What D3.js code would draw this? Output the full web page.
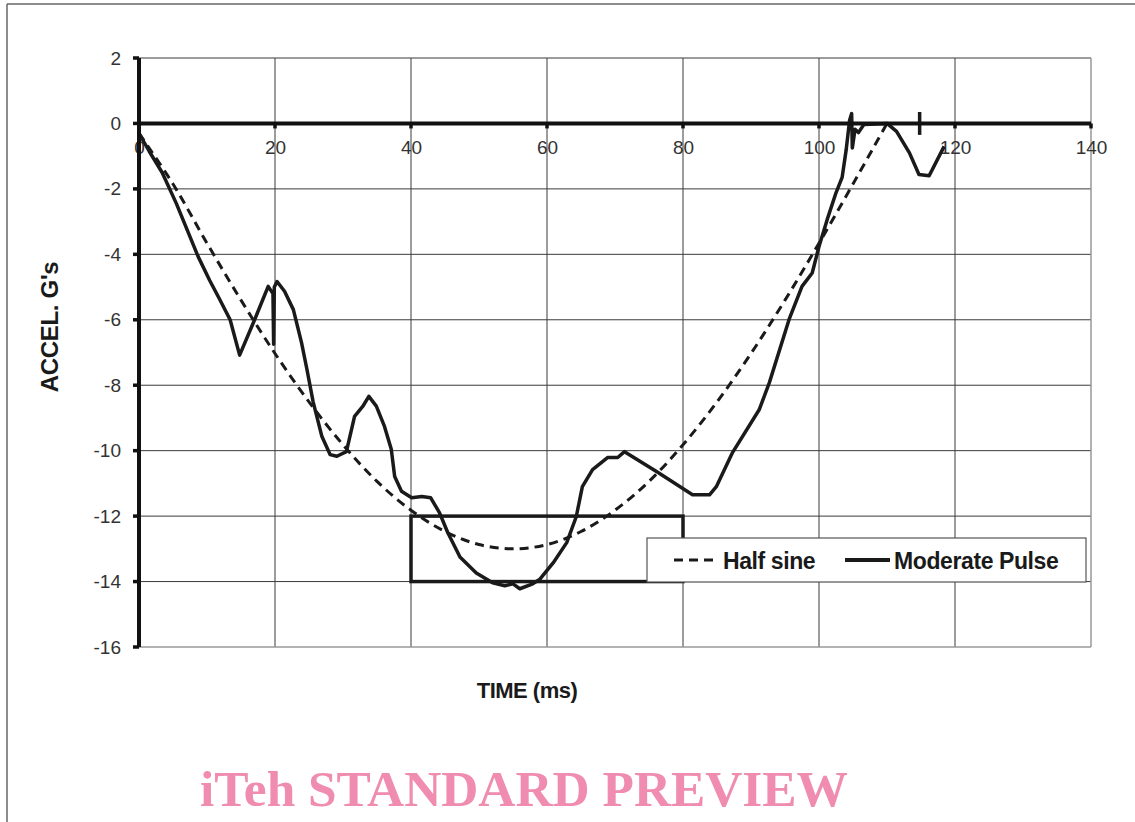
<!DOCTYPE html>
<html>
<head>
<meta charset="utf-8">
<script src="https://cdn.jsdelivr.net/npm/d3@7"></script>
<style>
  html, body { margin: 0; padding: 0; background: #fff; }
  svg { display: block; }
</style>
</head>
<body>
<svg id="chart" width="1135" height="822"></svg>
<script>
// ---- data ----
const xTicks = [0, 20, 40, 60, 80, 100, 120, 140];
const yTicks = [2, 0, -2, -4, -6, -8, -10, -12, -14, -16];

const halfSineTime = [0, 5, 10, 15, 20, 25, 30, 35, 40, 45, 50, 55, 60, 65, 70, 75, 80, 85, 90, 95, 100, 105, 110];
const halfSineAccel = [-0.3, -1.85, -3.66, -5.40, -7.03, -8.51, -9.82, -10.94, -11.82, -12.47, -12.87, -13.0,
  -12.87, -12.47, -11.82, -10.94, -9.82, -8.51, -7.03, -5.40, -3.66, -1.85, 0];

const pulseTime = [0, 1.5, 3.4, 5.5, 8.7, 10.4, 11.8, 13.4, 14.8, 17.0, 19.0, 19.7, 19.8, 19.9, 20.3, 21.4, 22.7,
  23.9, 24.7, 25.6, 26.9, 28.1, 29.1, 30.5, 31.7, 32.9, 33.8, 34.9, 36.1, 37.1, 37.6, 38.6, 40.1, 41.6, 42.9,
  44.2, 45.4, 47.2, 49.6, 52.0, 53.8, 55.0, 56.0, 57.9, 58.9, 60.9, 62.9, 64.3, 65.2, 66.7, 68.9, 70.4, 71.4,
  76.1, 81.4, 83.9, 84.9, 87.3, 91.2, 92.7, 95.6, 97.5, 99.0, 100.0, 101.2, 102.5, 103.4, 104.0, 104.5, 104.8,
  104.9, 105.3, 105.8, 106.6, 110.0, 111.4, 113.3, 114.7, 116.2, 118.4];
const pulseAccel = [-0.3, -0.85, -1.5, -2.45, -4.07, -4.8, -5.35, -6.0, -7.08, -6.0, -4.98, -5.2, -6.75, -5.0,
  -4.83, -5.13, -5.69, -6.7, -7.52, -8.5, -9.57, -10.12, -10.17, -10.03, -8.95, -8.65, -8.34, -8.64, -9.26, -9.96,
  -10.79, -11.24, -11.44, -11.4, -11.44, -11.9, -12.5, -13.25, -13.74, -14.04, -14.13, -14.07, -14.22, -14.07,
  -13.94, -13.43, -12.81, -12.02, -11.1, -10.58, -10.21, -10.21, -10.03, -10.64, -11.35, -11.35, -11.1, -10.05,
  -8.75, -7.92, -5.99, -4.98, -4.57, -3.76, -2.94, -2.12, -1.65, -0.8, 0.1, 0.3, -0.75, -0.18, -0.28, -0.03, 0,
  -0.24, -0.9, -1.56, -1.6, -0.7];
// isolated vertical pulse mark
const pulseMarkTime = [114.8];
const pulseMarkRange = [0.35, -0.35];

// tolerance box (time range, accel range)
const boxTime = [40, 80];
const boxAccel = [-12, -14];

const seriesNames = ["Half sine", "Moderate Pulse"];
const xTitle = "TIME (ms)";
const yTitle = "ACCEL. G's";
const watermark = "iTeh STANDARD PREVIEW";

// ---- drawing ----
const SANS = "'Liberation Sans', Arial, sans-serif";
const svg = d3.select("#chart");
const x = d3.scaleLinear().domain([0, 140]).range([139, 1091]);
const y = d3.scaleLinear().domain([-16, 2]).range([647, 58]);

// outer frame
svg.append("line").attr("x1", 7).attr("x2", 1135).attr("y1", 4).attr("y2", 4)
  .attr("stroke", "#666").attr("stroke-width", 1.5);
svg.append("line").attr("x1", 7).attr("x2", 7).attr("y1", 4).attr("y2", 822)
  .attr("stroke", "#666").attr("stroke-width", 1.5);

// grid
const grid = svg.append("g");
grid.selectAll("line.v").data(xTicks.filter(d => d > 0 && d < 140)).enter().append("line")
  .attr("x1", d => x(d)).attr("x2", d => x(d)).attr("y1", y(2)).attr("y2", y(-16))
  .attr("stroke", "#3a3a3a").attr("stroke-width", 1);
grid.selectAll("line.h").data(yTicks.filter(d => d !== 0 && d !== -16)).enter().append("line")
  .attr("x1", x(0)).attr("x2", x(140)).attr("y1", d => y(d)).attr("y2", d => y(d))
  .attr("stroke", "#3a3a3a").attr("stroke-width", 1);
grid.append("line").attr("x1", x(140)).attr("x2", x(140)).attr("y1", y(2)).attr("y2", y(-16))
  .attr("stroke", "#999").attr("stroke-width", 1.5);
grid.append("line").attr("x1", x(0)).attr("x2", x(140)).attr("y1", y(-16)).attr("y2", y(-16))
  .attr("stroke", "#999").attr("stroke-width", 1.5);

// axes labels
const fmt = d => String(d);
const yAxis = d3.axisLeft(y).tickValues(yTicks).tickSize(0).tickPadding(18).tickFormat(fmt);
const gy = svg.append("g").attr("transform", `translate(${x(0)},0)`).call(yAxis);
gy.select(".domain").remove();
gy.selectAll("text").style("font-size", "19px").style("font-family", SANS).attr("fill", "#333");

const xAxis = d3.axisBottom(x).tickValues(xTicks).tickSize(0).tickPadding(17).tickFormat(fmt);
const gx = svg.append("g").attr("transform", `translate(0,${y(0)})`).call(xAxis);
gx.select(".domain").remove();
gx.selectAll("text").style("font-size", "19px").style("font-family", SANS).attr("fill", "#333");

// tolerance box
svg.append("rect")
  .attr("x", x(boxTime[0])).attr("y", y(boxAccel[0]))
  .attr("width", x(boxTime[1]) - x(boxTime[0])).attr("height", y(boxAccel[1]) - y(boxAccel[0]))
  .attr("fill", "none").attr("stroke", "#1a1a1a").attr("stroke-width", 3.5);

// half sine
const halfSine = halfSineTime.map((t, i) => [t, halfSineAccel[i]]);
svg.append("path").datum(halfSine)
  .attr("d", d3.line().x(d => x(d[0])).y(d => y(d[1])).curve(d3.curveCatmullRom))
  .attr("fill", "none").attr("stroke", "#1a1a1a").attr("stroke-width", 3)
  .attr("stroke-dasharray", "9,6");

// moderate pulse
const pulse = pulseTime.map((t, i) => [t, pulseAccel[i]]);
svg.append("path").datum(pulse)
  .attr("d", d3.line().x(d => x(d[0])).y(d => y(d[1])).curve(d3.curveLinear))
  .attr("fill", "none").attr("stroke", "#1a1a1a").attr("stroke-width", 3.5)
  .attr("stroke-linejoin", "round");
svg.selectAll("line.mark").data(pulseMarkTime).enter().append("line")
  .attr("x1", d => x(d)).attr("x2", d => x(d))
  .attr("y1", y(pulseMarkRange[0])).attr("y2", y(pulseMarkRange[1]))
  .attr("stroke", "#1a1a1a").attr("stroke-width", 3.5);

// thick axis lines
svg.append("line").attr("x1", x(0)).attr("x2", x(0)).attr("y1", y(2)).attr("y2", y(-16))
  .attr("stroke", "#111").attr("stroke-width", 4);
svg.append("line").attr("x1", x(0)).attr("x2", x(140)).attr("y1", y(0)).attr("y2", y(0))
  .attr("stroke", "#111").attr("stroke-width", 4);
svg.selectAll("line.yt").data(yTicks).enter().append("line")
  .attr("x1", x(0) - 6).attr("x2", x(0)).attr("y1", d => y(d)).attr("y2", d => y(d))
  .attr("stroke", "#111").attr("stroke-width", 3.5);
svg.selectAll("line.xt").data(xTicks).enter().append("line")
  .attr("x1", d => x(d)).attr("x2", d => x(d)).attr("y1", y(0)).attr("y2", y(0) + 5)
  .attr("stroke", "#111").attr("stroke-width", 3.5);

// axis titles
svg.append("text").attr("x", 527).attr("y", 698).attr("text-anchor", "middle")
  .style("font-family", SANS).style("font-size", "22px").attr("font-weight", "bold").attr("fill", "#1a1a1a")
  .attr("letter-spacing", -0.5).text(xTitle);
svg.append("text").attr("transform", "translate(58,327) rotate(-90)").attr("text-anchor", "middle")
  .style("font-family", SANS).style("font-size", "24px").attr("font-weight", "bold").attr("fill", "#1a1a1a")
  .attr("letter-spacing", -0.3).text(yTitle);

// legend
const lg = svg.append("g");
lg.append("rect").attr("x", 647).attr("y", 538).attr("width", 439).attr("height", 44)
  .attr("fill", "#fff").attr("stroke", "#555").attr("stroke-width", 1.2);
lg.append("line").attr("x1", 674).attr("x2", 715).attr("y1", 560).attr("y2", 560)
  .attr("stroke", "#1a1a1a").attr("stroke-width", 3).attr("stroke-dasharray", "9,6");
lg.append("text").attr("x", 723).attr("y", 569).style("font-family", SANS).style("font-size", "23px")
  .attr("font-weight", "bold").attr("fill", "#1a1a1a").attr("letter-spacing", -0.4).text(seriesNames[0]);
lg.append("line").attr("x1", 845).attr("x2", 890).attr("y1", 560).attr("y2", 560)
  .attr("stroke", "#1a1a1a").attr("stroke-width", 4);
lg.append("text").attr("x", 894).attr("y", 569).style("font-family", SANS).style("font-size", "23px")
  .attr("font-weight", "bold").attr("fill", "#1a1a1a").attr("letter-spacing", -0.4).text(seriesNames[1]);

// watermark
svg.append("text").attr("x", 200).attr("y", 806)
  .style("font-family", "'Liberation Serif', 'Times New Roman', serif")
  .style("font-size", "51px").attr("font-weight", "bold").attr("fill", "#ef8cb0")
  .attr("textLength", 648).attr("lengthAdjust", "spacingAndGlyphs")
  .text(watermark);
</script>
</body>
</html>
